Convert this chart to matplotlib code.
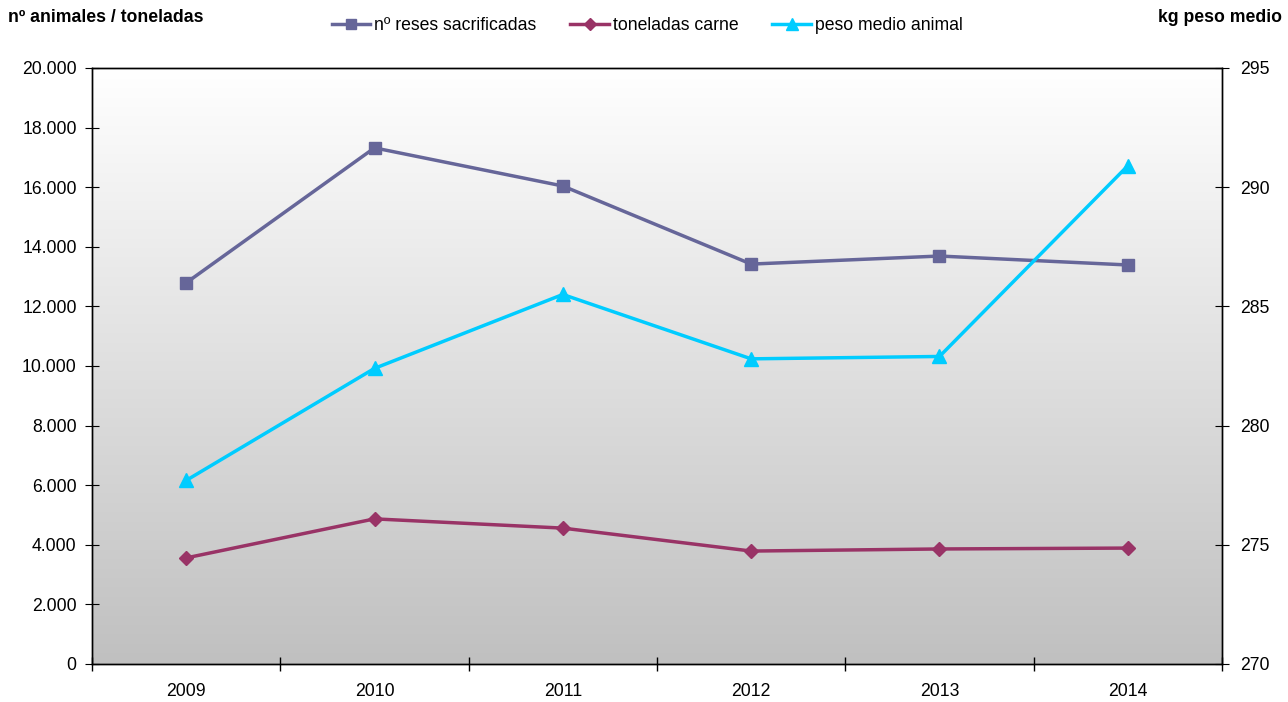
import numpy as np
import matplotlib
matplotlib.use("Agg")
import matplotlib.pyplot as plt
from matplotlib.ticker import FuncFormatter

plt.rcParams['font.family'] = ['Liberation Sans', 'DejaVu Sans']

years = ['2009', '2010', '2011', '2012', '2013', '2014']
reses = [12790, 17320, 16040, 13420, 13690, 13390]
toneladas = [3560, 4870, 4560, 3790, 3860, 3890]
peso = [277.7, 282.4, 285.5, 282.8, 282.9, 290.9]

fs = 12.7

fig = plt.figure(figsize=(12.88, 7.02), dpi=100)
ax = fig.add_axes([92 / 1288, 38 / 702, 1130 / 1288, 596 / 702])
ax2 = ax.twinx()

# degradado de fondo
grad = np.linspace(1, 0, 256).reshape(-1, 1)
ax.imshow(grad, extent=[0, 1, 0, 1], transform=ax.transAxes, aspect='auto',
          cmap=matplotlib.colors.LinearSegmentedColormap.from_list('g', ['#c0c0c0', '#ffffff']),
          zorder=0)

x = np.arange(len(years))
l1, = ax.plot(x, reses, color='#666699', lw=2.5, marker='s', ms=9, label='nº reses sacrificadas', zorder=3)
l2, = ax.plot(x, toneladas, color='#993366', lw=2.5, marker='D', ms=7, label='toneladas carne', zorder=3)
l3, = ax2.plot(x, peso, color='#00ccff', lw=2.5, marker='^', ms=10, label='peso medio animal', zorder=3)

ax.set_xlim(-0.5, 5.5)
ax.set_ylim(0, 20000)
ax2.set_ylim(270, 295)
ax.set_yticks(range(0, 20001, 2000))
ax2.set_yticks(range(270, 296, 5))
ax.yaxis.set_major_formatter(FuncFormatter(lambda v, p: f'{int(v):,}'.replace(',', '.')))

ax.set_xticks(x)
ax.set_xticklabels(years)
ax.set_xticks(np.arange(-0.5, 6, 1), minor=True)
ax.tick_params(axis='x', which='major', length=0, pad=14, labelsize=fs)
ax.tick_params(axis='x', which='minor', length=10, direction='inout', width=1)
ax.tick_params(axis='y', direction='inout', length=10, labelsize=fs, pad=6)
ax2.tick_params(axis='y', direction='inout', length=10, labelsize=fs, pad=8)

for a in (ax, ax2):
    for s in a.spines.values():
        s.set_color('black')
        s.set_linewidth(1)

fig.text(8 / 1288, 1 - 17 / 702, 'nº animales / toneladas', fontsize=fs, fontweight='bold', va='center')
fig.text(1282 / 1288, 1 - 17 / 702, 'kg peso medio', fontsize=fs, fontweight='bold', va='center', ha='right')

fig.legend(handles=[l1, l2, l3], loc='center', bbox_to_anchor=(647 / 1288, 1 - 26 / 702),
           ncol=3, frameon=False, fontsize=fs, handlelength=2.2, handletextpad=0.2,
           columnspacing=1.93, markerscale=0.85)

fig.savefig('out.png', dpi=100)
